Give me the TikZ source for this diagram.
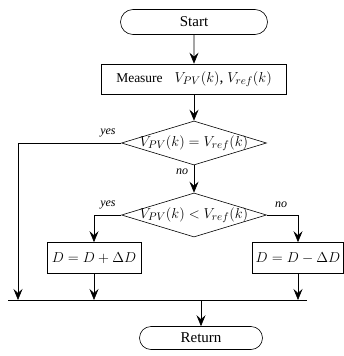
\documentclass[tikz,border=0pt]{standalone}
\usepackage{fontspec}
\setmainfont{Liberation Serif}
\usetikzlibrary{arrows.meta,shapes.geometric,shapes.misc}
\begin{document}
\begin{tikzpicture}[x=1pt,y=-1pt,
  line width=0.6pt,
  arr/.style={-{Stealth[length=11pt,width=9pt,inset=4pt]}},
  term/.style={draw,rounded rectangle,minimum width=147pt,minimum height=25pt,inner sep=0pt,font=\fontsize{15}{17}\selectfont},
  proc/.style={draw,rectangle,minimum height=30pt,inner sep=0pt,font=\fontsize{14}{16}\selectfont},
  dec/.style={draw,diamond,minimum width=145pt,minimum height=44pt,inner sep=0pt,font=\fontsize{15}{17}\selectfont},
  lab/.style={font=\itshape\fontsize{12}{13}\selectfont,inner sep=0pt}]
\useasboundingbox (0,0) rectangle (344,356);
\node[term] (start) at (194,22) {Start};
\node[proc,minimum width=185pt] (meas) at (194,79) {{\fontsize{13.5}{15}\selectfont Measure}\hspace{12pt}{\fontsize{15.5}{17}\selectfont$V_{PV}(k)$, $V_{ref}(k)$}};
\node[dec] (d1) at (194,143) {\makebox[0pt]{$V_{PV}(k)=V_{ref}(k)$}};
\node[dec] (d2) at (194,215) {\makebox[0pt]{$V_{PV}(k)<V_{ref}(k)$}};
\node[proc,minimum width=94pt,minimum height=31pt] (inc) at (94,258) {$D=D+\Delta D$};
\node[proc,minimum width=91pt,minimum height=31pt] (dec) at (298,258) {$D=D-\Delta D$};
\node[term,minimum width=123pt,minimum height=23pt] (ret) at (201,338) {Return};
\coordinate (busL) at (8,300);
\coordinate (busR) at (307,300);
\coordinate (yl) at (18,143);
\coordinate (b1) at (18,300);
\coordinate (b2) at (inc.south|-busL);
\coordinate (b3) at (dec.south|-busL);
\coordinate (b4) at (201,300);
\draw[line width=1pt] (busL) -- (busR);
\draw[arr] (start) -- (meas);
\draw[arr] (meas) -- (d1);
\draw[arr] (d1) -- (d2);
\draw[arr] (d1.west) -- (yl) -- (b1);
\draw[arr] (d2.west) -| (inc.north);
\draw[arr] (d2.east) -| (dec.north);
\draw[arr] (inc) -- (b2);
\draw[arr] (dec) -- (b3);
\draw[arr] (b4) -- (ret);
\node[lab] (y1) at (108,133) {yes};
\node[lab] (n1) at (182,172) {no};
\node[lab] (y2) at (108,205) {yes};
\node[lab] (n2) at (281,205) {no};
\end{tikzpicture}
\end{document}
